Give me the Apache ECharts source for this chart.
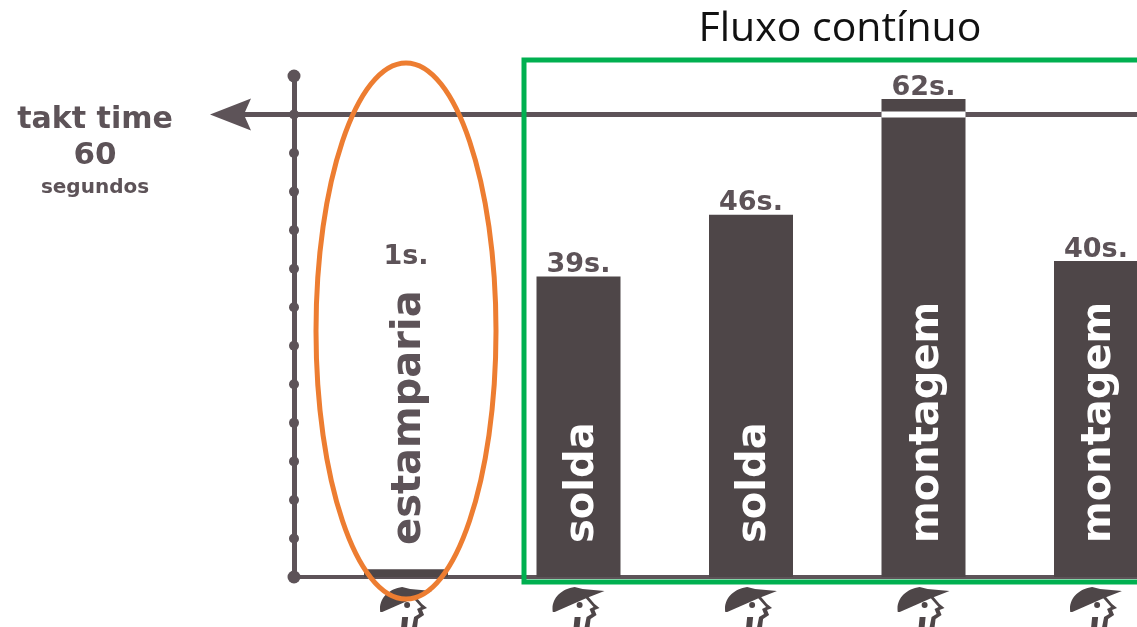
<!DOCTYPE html>
<html>
<head>
<meta charset="utf-8">
<style>
  html, body { margin: 0; padding: 0; background: #fff; }
  #chart { width: 1137px; height: 627px; }
</style>
<script src="https://cdn.jsdelivr.net/npm/echarts@6/dist/echarts.min.js"></script>
</head>
<body>
<div id="chart"></div>
<script>
// values
const stations = ['estamparia', 'solda', 'solda', 'montagem', 'montagem']
const barSeconds = [1, 39, 47, 62, 41]   // drawn height, 2 of the bars are a bit above their printed label
const secondsLabels = ['1s.', '39s.', '46s.', '62s.', '40s.']
const yTicks = [0, 5, 10, 15, 20, 25, 30, 35, 40, 45, 50, 55, 60, 65]
const taktTime = 60

const textColor = '#5d5358'
const barColor = '#4e4648'
const fontFamily = '"DejaVu Sans", sans-serif'

// x axis is in stations, first bar at 0. one station is 172.5px, y axis sits left of it
const stationPx = 172.5
const axisX = -112 / stationPx
const rightX = 731 / stationPx
const barHalf = 42 / stationPx

// arrow head plus the bit of line up to the y axis, 84px wide
const arrowPath = 'path://M0 16L41 0L35 13.5L84 13.5L84 18.5L35 18.5L41 32Z'
const workerPath = 'path://M0 25C-2 12 8 2 22 0L30 2L52 4L34 11L2 25Z' +
  'M36 10L42 17L47 21L42 23L44 28L38 32L37 40L32 40L34 30L39 27L37 22L41 20L33 11Z' +
  'M24 18A3 3 0 1 1 30 18A3 3 0 1 1 24 18Z' +
  'M22 30L28 30L27 40L21 40Z'

const myCharts = echarts.init(document.getElementById('chart'), null, { renderer: 'canvas' })

const option = {
  animation: false,
  backgroundColor: '#fff',
  grid: { left: 294, right: 0, top: 76, bottom: 50 },
  xAxis: {
    type: 'value',
    min: axisX,
    max: rightX,
    splitLine: { show: false },
    axisTick: { show: false },
    axisLabel: { show: false },
    axisLine: { show: true, onZero: false, lineStyle: { color: textColor, width: 4 } }
  },
  yAxis: {
    type: 'value',
    min: 0,
    max: 65,
    interval: 5,
    splitLine: { show: false },
    axisTick: { show: false },
    axisLabel: { show: false },
    axisLine: { show: true, onZero: false, lineStyle: { color: textColor, width: 5 } }
  },
  series: [
    {
      // bars with the station name inside
      type: 'bar',
      barWidth: 84,
      z: 2,
      itemStyle: { color: barColor },
      data: barSeconds.map((v, i) => ({
        value: [i, v],
        label: {
          show: true,
          formatter: stations[i],
          position: 'insideBottom',
          distance: i === 0 ? 32 : 34,
          offset: [0, 4], // label is rotated, so this pushes it to the right
          rotate: 90,
          align: 'left',
          verticalAlign: 'middle',
          fontFamily,
          fontWeight: 'bold',
          fontSize: 40,
          color: i === 0 ? textColor : '#fff'
        }
      }))
    },
    {
      // seconds above each bar
      type: 'scatter',
      symbolSize: 0,
      z: 3,
      silent: true,
      itemStyle: { opacity: 1 },
      data: barSeconds.map((v, i) => ({
        value: [i, v],
        label: {
          show: true,
          formatter: secondsLabels[i],
          position: 'top',
          distance: -2,
          offset: i === 0 ? [0, -301] : [0, 0],
          fontFamily,
          fontWeight: 'bold',
          fontSize: 27,
          color: textColor
        }
      }))
    },
    {
      // takt line
      type: 'line',
      z: 1,
      silent: true,
      symbol: 'none',
      lineStyle: { color: textColor, width: 5 },
      data: [[axisX, taktTime], [rightX, taktTime]]
    },
    {
      // arrow on the takt line, left of the y axis
      type: 'scatter',
      z: 1,
      silent: true,
      clip: false,
      symbol: arrowPath,
      symbolSize: [84, 32],
      itemStyle: { color: textColor, opacity: 1 },
      data: [[axisX - 42 / stationPx, taktTime]]
    },
    {
      // white gap where the takt line crosses the tall bar
      type: 'line',
      z: 3,
      silent: true,
      symbol: 'none',
      lineStyle: { color: '#fff', width: 6 },
      data: [[3 - barHalf, taktTime], [3 + barHalf, taktTime]]
    },
    {
      // dots on the y axis
      type: 'scatter',
      z: 4,
      silent: true,
      clip: false,
      symbolSize: (d) => (d[1] === 0 || d[1] === 65 ? 13 : 10),
      itemStyle: { color: textColor, opacity: 1 },
      data: yTicks.map(t => [axisX, t])
    },
    {
      // workers under the axis
      type: 'scatter',
      z: 4,
      silent: true,
      clip: false,
      symbol: workerPath,
      symbolSize: [52, 40],
      itemStyle: { color: barColor, opacity: 1 },
      data: stations.map((s, i) => [i, -3.9])
    }
  ],
  graphic: [
    { type: 'text', x: 95, y: 120, z: 5, style: { text: 'takt time', fill: textColor, font: 'bold 30px ' + fontFamily, textAlign: 'center', textVerticalAlign: 'middle' } },
    { type: 'text', x: 95, y: 156, z: 5, style: { text: '60', fill: textColor, font: 'bold 31px ' + fontFamily, textAlign: 'center', textVerticalAlign: 'middle' } },
    { type: 'text', x: 95, y: 188, z: 5, style: { text: 'segundos', fill: textColor, font: 'bold 20px ' + fontFamily, textAlign: 'center', textVerticalAlign: 'middle' } },
    { type: 'text', x: 840, y: 29, z: 5, style: { text: 'Fluxo contínuo', fill: '#111', font: '41px "Open Sans", sans-serif', textAlign: 'center', textVerticalAlign: 'middle' } },
    { type: 'ellipse', z: 6, shape: { cx: 406, cy: 331, rx: 90, ry: 268 }, style: { fill: 'none', stroke: '#ed7d31', lineWidth: 5 } },
    { type: 'rect', z: 6, shape: { x: 524, y: 60, width: 640, height: 522 }, style: { fill: 'none', stroke: '#00b050', lineWidth: 5 } }
  ]
}

myCharts.setOption(option)
</script>
</body>
</html>
